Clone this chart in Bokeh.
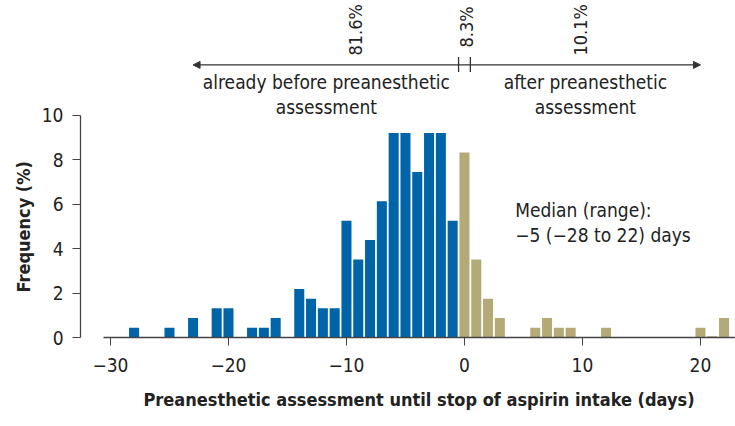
from math import pi
from bokeh.plotting import figure
from bokeh.models import Range1d, FixedTicker, Arrow, NormalHead, Title
from bokeh.core.properties import value
from bokeh.embed import file_html
from bokeh.resources import INLINE

# ---- data ----
days_before = [-28, -25, -23, -21, -20, -18, -17, -16, -14, -13, -12, -11,
               -10, -9, -8, -7, -6, -5, -4, -3, -2, -1]
freq_before = [0.44, 0.44, 0.88, 1.32, 1.32, 0.44, 0.44, 0.88, 2.19, 1.75, 1.32, 1.32,
               5.26, 3.51, 4.39, 6.14, 9.21, 9.21, 7.46, 9.21, 9.21, 5.26]
days_after = [0, 1, 2, 3, 6, 7, 8, 9, 12, 20, 21, 22]
freq_after = [8.33, 3.51, 1.75, 0.88, 0.44, 0.88, 0.44, 0.44, 0.44, 0.44, 0.06, 0.88]

x_ticks = [-30, -20, -10, 0, 10, 20]
x_tick_labels = ["\u221230", "\u221220", "\u221210", "0", "10", "20"]
y_ticks = [0, 2, 4, 6, 8, 10]

x_title = "Preanesthetic assessment until stop of aspirin intake (days)"
y_title = "Frequency (%)"

pct_labels = ["81.6%", "8.3%", "10.1%"]
pct_x = [-9.25, 0.2, 9.85]
pct_y = [12.70, 13.06, 12.70]

group_lines = ["already before preanesthetic", "assessment",
               "after preanesthetic", "assessment"]
group_x = [-11.7, -11.7, 10.25, 10.25]
group_y = [11.50, 10.40, 11.50, 10.40]

median_lines = ["Median (range):", "\u22125 (\u221228 to 22) days"]
median_x = [4.3, 4.3]
median_y = [5.75, 4.6]

breaks_x = [-0.5, 0.5]
arrow_x = (-23.0, 20.0)
arrow_y = 12.28

FONT = "DejaVu Sans Condensed"
TXT = "#222222"
AX = "#444444"
BLUE = "#0064a8"
TAN = "#b4aa78"

p = figure(width=735, height=426, output_backend="svg", toolbar_location=None,
           x_range=Range1d(-32.54, 22.97), y_range=Range1d(0, 15.18),
           min_border_left=80, min_border_right=0, min_border_top=0,
           min_border_bottom=89)
p.outline_line_color = None
p.grid.grid_line_color = None
p.background_fill_color = "white"

p.vbar(x=days_before, top=freq_before, width=0.85, bottom=0,
       fill_color=BLUE, line_color=None)
p.vbar(x=days_after, top=freq_after, width=0.85, bottom=0,
       fill_color=TAN, line_color=None)

# axes
xa = p.xaxis[0]
xa.ticker = FixedTicker(ticks=x_ticks)
xa.major_label_overrides = dict(zip(x_ticks, x_tick_labels))
xa.bounds = (-30.6, 23)
xa.major_label_text_font = FONT
xa.major_label_text_font_size = "19px"
xa.major_label_text_color = TXT
xa.major_label_standoff = 12
xa.major_tick_out = 8
xa.major_tick_in = 0
xa.minor_tick_line_color = None
xa.axis_line_color = AX
xa.major_tick_line_color = AX
xa.axis_line_width = 1.3

ya = p.yaxis[0]
ya.ticker = FixedTicker(ticks=y_ticks)
ya.bounds = (0, 10)
ya.major_label_text_font = FONT
ya.major_label_text_font_size = "19px"
ya.major_label_text_color = TXT
ya.major_label_standoff = 9
ya.major_tick_out = 8
ya.major_tick_in = 0
ya.minor_tick_line_color = None
ya.axis_line_color = AX
ya.major_tick_line_color = AX
ya.axis_line_width = 1.3

# axis titles as side-panel titles, aligned to the axis lines
p.add_layout(Title(text=x_title, align="left", offset=63, standoff=24,
                   text_font=FONT, text_font_style="bold", text_font_size="18px",
                   text_color=TXT), "below")
p.add_layout(Title(text=y_title, align="left", offset=45, standoff=10,
                   text_font=FONT, text_font_style="bold", text_font_size="18px",
                   text_color=TXT), "left")

# top arrow with break marks
p.add_layout(Arrow(start=NormalHead(size=7, fill_color="#333333", line_color="#333333", line_width=1),
                   end=NormalHead(size=7, fill_color="#333333", line_color="#333333", line_width=1),
                   x_start=arrow_x[0], y_start=arrow_y, x_end=arrow_x[1], y_end=arrow_y,
                   line_color="#333333", line_width=1.3))
p.segment(x0=breaks_x, x1=breaks_x, y0=[arrow_y - 0.32] * 2, y1=[arrow_y + 0.36] * 2,
          line_color="#333333", line_width=1.3)

p.text(x=pct_x, y=pct_y, text=pct_labels, angle=pi / 2, text_align="left",
       text_baseline="middle", text_font=value(FONT), text_font_size="18px",
       text_color=TXT)
p.text(x=group_x, y=group_y, text=group_lines, text_align="center",
       text_baseline="middle", text_font=value(FONT), text_font_size="19px",
       text_color=TXT)
p.text(x=median_x, y=median_y, text=median_lines, text_align="left",
       text_baseline="middle", text_font=value(FONT), text_font_size="19px",
       text_color=TXT)

open("out.html", "w").write(file_html(p, INLINE))
